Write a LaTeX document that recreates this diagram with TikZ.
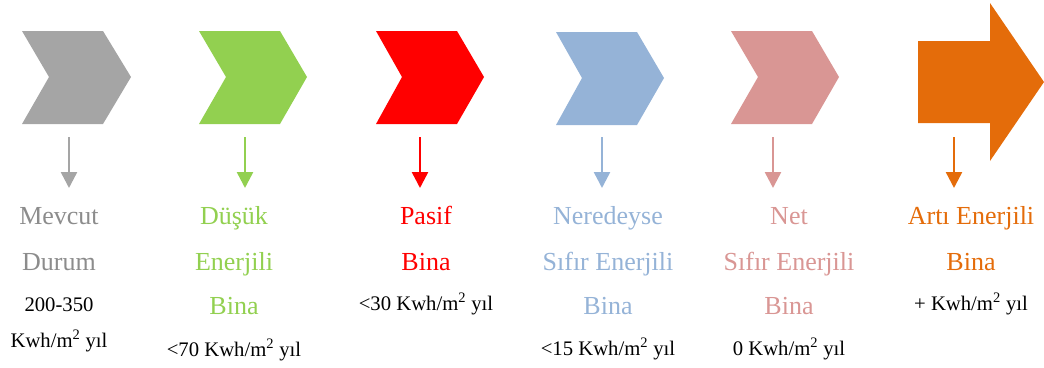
\documentclass[tikz,border=0pt]{standalone}
\usepackage{fontspec}
\setmainfont{Liberation Serif}
\usetikzlibrary{arrows.meta}
\definecolor{gri}{HTML}{A5A5A5}
\definecolor{griyazi}{HTML}{8C8C8C}
\definecolor{yesil}{HTML}{92D050}
\definecolor{kirmizi}{HTML}{FF0000}
\definecolor{mavi}{HTML}{95B3D7}
\definecolor{pembe}{HTML}{D99694}
\definecolor{turuncu}{HTML}{E46C0A}
\begin{document}
\begin{tikzpicture}[x=1pt,y=-1pt,
  baslik/.style={anchor=base,inner sep=0pt,font=\fontsize{26}{30}\selectfont},
  deger/.style={anchor=base,inner sep=0pt,font=\fontsize{20.7}{24}\selectfont},
  asagi/.style={line width=2.5pt,-{Triangle[length=16pt,width=16pt]}}]
\useasboundingbox (0,0) rectangle (1044,367);
\fill[gri] (22,31)--(103,31)--(131,77)--(103,124)--(22,124)--(49,77)--cycle;
\coordinate (g1) at (69,137);
\coordinate (g2) at (69,188);
\draw[asagi,gri] (g1)--(g2);
\node[baslik,griyazi] (mevcut) at (59,224){Mevcut};
\node[baslik,griyazi] (durum) at (59,270){Durum};
\node[deger] (gdeger) at (59,311){200-350};
\node[deger] (gbirim) at (59,347){Kwh/m\textsuperscript{2} yıl};
\fill[yesil] (199,31)--(280,31)--(307,77)--(280,124)--(199,124)--(226,77)--cycle;
\coordinate (y1) at (245,137);
\coordinate (y2) at (245,188);
\draw[asagi,yesil] (y1)--(y2);
\node[baslik,yesil] (dusuk) at (234,224){Düşük};
\node[baslik,yesil] (yenerji) at (234,270){Enerjili};
\node[baslik,yesil] (ybina) at (234,314){Bina};
\node[deger] (ydeger) at (234,356){<70 Kwh/m\textsuperscript{2} yıl};
\fill[kirmizi] (376,31)--(457,31)--(484,77)--(457,124)--(376,124)--(402,77)--cycle;
\coordinate (k1) at (420,137);
\coordinate (k2) at (420,188);
\draw[asagi,kirmizi] (k1)--(k2);
\node[baslik,kirmizi] (pasif) at (426,224){Pasif};
\node[baslik,kirmizi] (kbina) at (426,270){Bina};
\node[deger] (kdeger) at (426,310){<30 Kwh/m\textsuperscript{2} yıl};
\fill[mavi] (556,32)--(637,32)--(664,78)--(637,125)--(556,125)--(582,78)--cycle;
\coordinate (m1) at (602,137);
\coordinate (m2) at (602,188);
\draw[asagi,mavi] (m1)--(m2);
\node[baslik,mavi] (neredeyse) at (608,224){Neredeyse};
\node[baslik,mavi] (msifir) at (608,270){Sıfır Enerjili};
\node[baslik,mavi] (mbina) at (608,314){Bina};
\node[deger] (mdeger) at (608,355){<15 Kwh/m\textsuperscript{2} yıl};
\fill[pembe] (731,31)--(812,31)--(839,77)--(812,124)--(731,124)--(758,77)--cycle;
\coordinate (p1) at (773,137);
\coordinate (p2) at (773,188);
\draw[asagi,pembe] (p1)--(p2);
\node[baslik,pembe] (net) at (789,224){Net};
\node[baslik,pembe] (psifir) at (789,270){Sıfır Enerjili};
\node[baslik,pembe] (pbina) at (789,314){Bina};
\node[deger] (pdeger) at (789,355){0 Kwh/m\textsuperscript{2} yıl};
\fill[turuncu] (918,41)--(990,41)--(990,3)--(1044,82)--(990,161)--(990,123)--(918,123)--cycle;
\coordinate (t1) at (954,137);
\coordinate (t2) at (954,188);
\draw[asagi,turuncu] (t1)--(t2);
\node[baslik,turuncu] (arti) at (971,224){Artı Enerjili};
\node[baslik,turuncu] (tbina) at (971,270){Bina};
\node[deger] (tdeger) at (971,310){+ Kwh/m\textsuperscript{2} yıl};
\end{tikzpicture}
\end{document}
